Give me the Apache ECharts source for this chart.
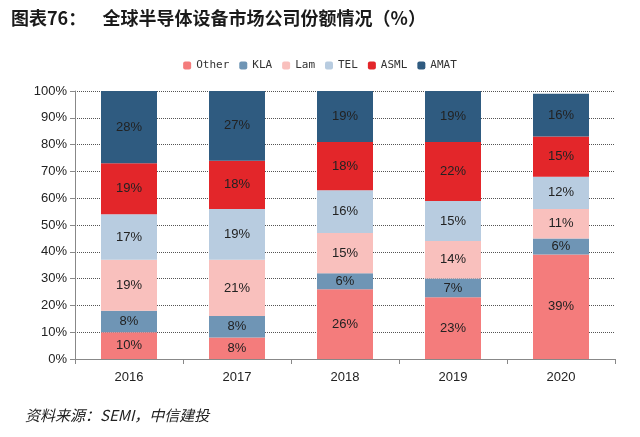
<!DOCTYPE html>
<html><head><meta charset="utf-8">
<script src="https://cdn.jsdelivr.net/npm/echarts@6/dist/echarts.min.js"></script>
<style>body{margin:0;background:#fff}#c{width:640px;height:437px}</style>
</head><body><div id="c"></div>
<script>
var years = ['2016', '2017', '2018', '2019', '2020'];
var other = [10, 8, 26, 23, 39];
var kla   = [8, 8, 6, 7, 6];
var lam   = [19, 21, 15, 14, 11];
var tel   = [17, 19, 16, 15, 12];
var asml  = [19, 18, 18, 22, 15];
var amat  = [28, 27, 19, 19, 16];

var names  = ['Other', 'KLA', 'Lam', 'TEL', 'ASML', 'AMAT'];
var values = [other, kla, lam, tel, asml, amat];
var colors = ['#f47c7c', '#6f95b5', '#f9c0bd', '#b8cce0', '#e3262a', '#2f5b80'];

var series = names.map(function (n, i) {
    return {
        name: n, type: 'bar', stack: 'all', barWidth: 56,
        itemStyle: { color: colors[i] },
        label: { show: true, formatter: '{c}%', color: '#222', fontSize: 13, fontFamily: 'Liberation Sans' },
        data: values[i]
    };
});

var chart = echarts.init(document.getElementById('c'));
chart.setOption({
    animation: false,
    title: [
        { text: '图表76：    全球半导体设备市场公司份额情况（%）', left: 6, top: 4,
          textStyle: { fontSize: 18, fontWeight: 'bold', color: '#1a1a1a', fontFamily: 'Noto Sans CJK SC' } },
        { text: '资料来源：SEMI，中信建投', left: 20, top: 403,
          textStyle: { fontSize: 15, fontStyle: 'italic', fontWeight: 'normal', color: '#222', fontFamily: 'Noto Sans CJK SC' } }
    ],
    legend: { top: 55, left: 'center', itemWidth: 8, itemHeight: 8, itemGap: 10,
        textStyle: { fontSize: 11, fontFamily: 'DejaVu Sans Mono', color: '#333' } },
    grid: { left: 75, right: 25, top: 91, bottom: 78 },
    xAxis: { type: 'category', data: years,
        axisLine: { lineStyle: { color: '#888' } },
        axisTick: { show: true, lineStyle: { color: '#888' } },
        axisLabel: { color: '#222', fontSize: 13, margin: 12 } },
    yAxis: { type: 'value', min: 0, max: 100, interval: 10,
        axisLine: { show: true, lineStyle: { color: '#888' } },
        axisTick: { show: true, lineStyle: { color: '#888' } },
        axisLabel: { formatter: '{value}%', color: '#222', fontSize: 13 },
        splitLine: { lineStyle: { color: '#555', type: 'dotted' } } },
    series: series
});
</script></body></html>
